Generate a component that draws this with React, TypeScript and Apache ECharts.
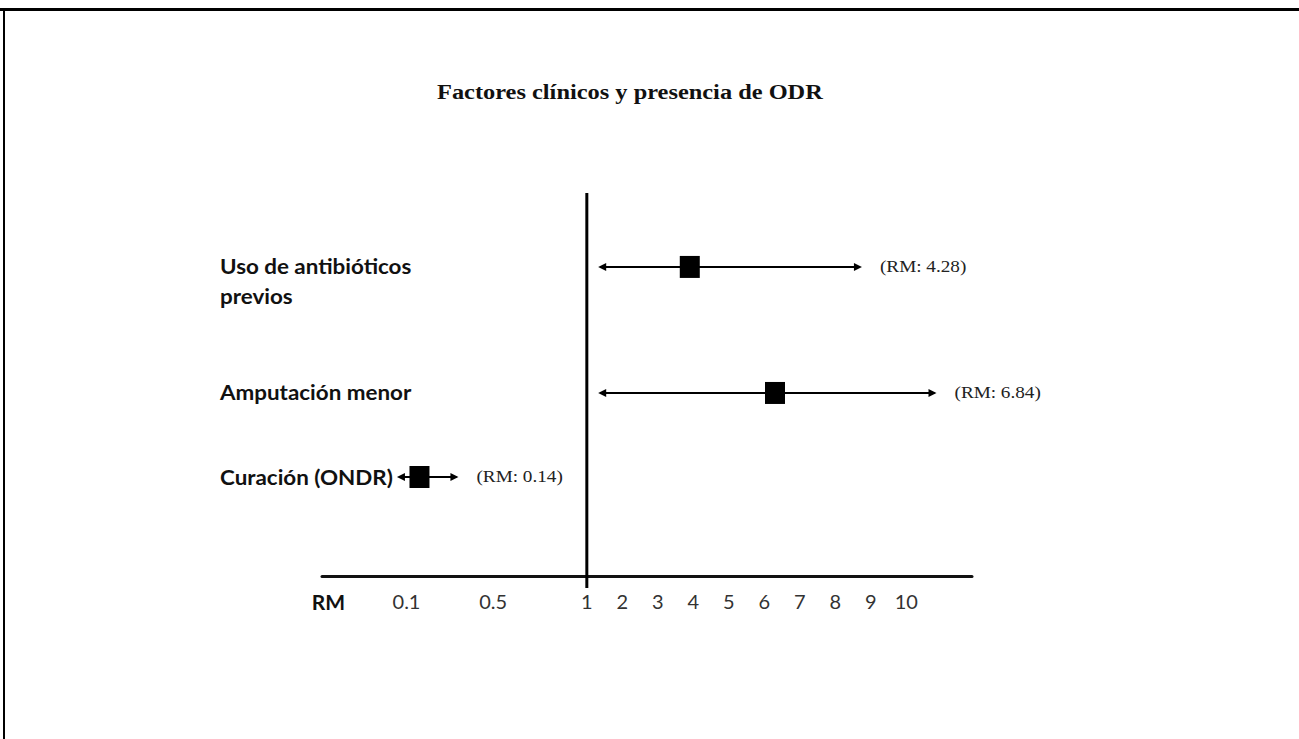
import React, { useEffect, useRef } from "react";
import * as echarts from "echarts";

// ---- data ----
const categories = ["Uso de antibióticos\nprevios", "Amputación menor", "Curación (ONDR)"];
const estimate = [3.9, 6.3, 0.16];
const lower = [1.32, 1.32, 0.056];
const upper = [8.75, 10.85, 0.34];
const rmText = ["(RM: 4.28)", "(RM: 6.84)", "(RM: 0.14)"];
const rowSlot = [7, 4, 2];

// axis: tick values and the (non-uniform) slot each tick occupies on the drawn axis
const tickLabels = ["0.1", "0.5", "1", "2", "3", "4", "5", "6", "7", "8", "9", "10"];
const tickValues = [0.1, 0.5, 1, 2, 3, 4, 5, 6, 7, 8, 9, 10];
const tickSlots = [-5.08, -2.64, 0, 1, 2, 3, 4, 5, 6, 7, 8, 9];
const axisName = "RM";
const axisNameSlot = -7.28;
const xMin = -7.46;
const xMax = 10.85;
const yMin = -0.357;
const yMax = 8.76;
const refValue = 1;
const title = "Factores clínicos y presencia de ODR";

function toPos(v: number): number {
  const n = tickValues.length;
  let i = 0;
  if (v <= tickValues[0]) i = 0;
  else if (v >= tickValues[n - 1]) i = n - 2;
  else {
    while (i < n - 2 && v > tickValues[i + 1]) i++;
  }
  const v0 = tickValues[i], v1 = tickValues[i + 1];
  const p0 = tickSlots[i], p1 = tickSlots[i + 1];
  return p0 + ((v - v0) / (v1 - v0)) * (p1 - p0);
}

export default function App() {
  const ref = useRef<HTMLDivElement>(null);
  useEffect(() => {
    if (!ref.current) return;
    const chart = echarts.init(ref.current, null, { renderer: "svg" });
    const rows = categories.map((_, i) => [
      toPos(estimate[i]),
      toPos(lower[i]),
      toPos(upper[i]),
      rowSlot[i],
    ]);
    const labelSlots = [...tickSlots, axisNameSlot];
    const option: any = {
      animation: false,
      backgroundColor: "#fff",
      grid: { left: 322, right: 327, top: 193, bottom: 163 },
      xAxis: {
        type: "value",
        min: xMin,
        max: xMax,
        axisLine: { onZero: false, lineStyle: { color: "#111", width: 3 } },
        axisTick: { show: false },
        splitLine: { show: false },
        axisLabel: {
          customValues: labelSlots,
          margin: 15,
          color: "#333",
          fontFamily: "Lato",
          fontSize: 20,
          formatter: (val: number) => {
            if (Math.abs(val - axisNameSlot) < 1e-6) return "{b|" + axisName + "}";
            const idx = tickSlots.findIndex((s) => Math.abs(s - val) < 1e-6);
            return idx >= 0 ? tickLabels[idx] : "";
          },
          rich: {
            b: { fontFamily: "Lato", fontWeight: "bold", fontSize: 21, color: "#111" },
          },
        },
      },
      yAxis: {
        type: "value",
        min: yMin,
        max: yMax,
        show: false,
      },
      series: [
        {
          type: "custom",
          clip: false,
          data: [[toPos(refValue), yMax]],
          renderItem: (params: any, api: any) => {
            const top = api.coord([api.value(0), yMax]);
            const bot = api.coord([api.value(0), yMin]);
            return {
              type: "line",
              shape: { x1: top[0], y1: top[1], x2: bot[0], y2: bot[1] + 12 },
              style: { stroke: "#000", lineWidth: 3 },
            };
          },
        },
        {
          type: "custom",
          clip: false,
          encode: { x: [0, 1, 2], y: 3 },
          data: rows,
          renderItem: (params: any, api: any) => {
            const i = params.dataIndex;
            const slot = api.value(3);
            const pe = api.coord([api.value(0), slot]);
            const pl = api.coord([api.value(1), slot]);
            const ph = api.coord([api.value(2), slot]);
            const y = pe[1];
            const ah = 8;
            const aw = 4;
            const leftX = api.coord([xMin, slot])[0];
            return {
              type: "group",
              children: [
                {
                  type: "line",
                  shape: { x1: pl[0] + 2, y1: y, x2: ph[0] - 2, y2: y },
                  style: { stroke: "#000", lineWidth: 2 },
                },
                {
                  type: "polygon",
                  shape: { points: [[pl[0], y], [pl[0] + ah, y - aw], [pl[0] + ah, y + aw]] },
                  style: { fill: "#000" },
                },
                {
                  type: "polygon",
                  shape: { points: [[ph[0], y], [ph[0] - ah, y - aw], [ph[0] - ah, y + aw]] },
                  style: { fill: "#000" },
                },
                {
                  type: "rect",
                  shape: { x: pe[0] - 10, y: y - 11, width: 20, height: 22 },
                  style: { fill: "#000" },
                },
                {
                  type: "text",
                  x: ph[0] + 18,
                  y: y,
                  scaleX: 1.2,
                  style: {
                    text: rmText[i],
                    fontFamily: "Liberation Serif",
                    fontSize: 16,
                    fill: "#222",
                    verticalAlign: "middle",
                    align: "left",
                  },
                },
                {
                  type: "text",
                  x: leftX - 102,
                  y: y - 15,
                  scaleX: 1.12,
                  style: {
                    text: categories[i],
                    fontFamily: "Lato",
                    fontWeight: "bold",
                    fontSize: 20,
                    lineHeight: 30,
                    fill: "#111",
                    verticalAlign: "top",
                    align: "left",
                  },
                },
              ],
            };
          },
        },
      ],
      graphic: [
        {
          type: "text",
          x: 437,
          y: 92,
          scaleX: 1.22,
          style: {
            text: title,
            fontFamily: "Liberation Serif",
            fontWeight: "bold",
            fontSize: 20,
            fill: "#111",
            verticalAlign: "middle",
            align: "left",
          },
        },
        {
          type: "line",
          shape: { x1: 0, y1: 9.5, x2: 1299, y2: 9.5 },
          style: { stroke: "#000", lineWidth: 3 },
        },
        {
          type: "line",
          shape: { x1: 4, y1: 8, x2: 4, y2: 739 },
          style: { stroke: "#000", lineWidth: 2 },
        },
      ],
    };
    chart.setOption(option);
    return () => chart.dispose();
  }, []);
  return (
    <div
      ref={ref}
      style={{ position: "absolute", left: 0, top: 0, width: 1299, height: 739 }}
    />
  );
}
